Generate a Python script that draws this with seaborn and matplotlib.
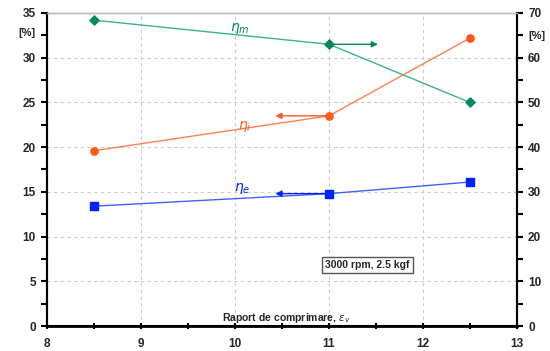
import matplotlib
matplotlib.use("Agg")
import matplotlib.pyplot as plt
from matplotlib.ticker import MultipleLocator
import pandas as pd
import seaborn as sns

# rapport de comprimare
eps_v = [8.5, 11.0, 12.5]
# randamente [%]
eta_m = [68.4, 63.0, 50.0]   # axa din dreapta
eta_i = [19.6, 23.5, 32.2]   # axa din stanga
eta_e = [13.4, 14.8, 16.1]   # axa din stanga

sns.set_style("white")
plt.rcParams["font.family"] = ["Liberation Sans", "DejaVu Sans"]

fig = plt.figure(figsize=(5.5, 3.51), dpi=100)
ax = fig.add_axes([0.0855, 0.0712, 0.8545, 0.8918])
ax2 = ax.twinx()

green_l, green_m = "#3cb48a", "#008a5a"
red_l, red_m = "#ff8050", "#ff5a1e"
blue_l, blue_m = "#4060ff", "#0022ff"

df = pd.DataFrame({"eps": eps_v, "ei": eta_i, "ee": eta_e, "em": eta_m})

sns.lineplot(data=df, x="eps", y="ei", ax=ax, color=red_l, lw=1)
sns.lineplot(data=df, x="eps", y="ee", ax=ax, color=blue_l, lw=1)
sns.lineplot(data=df, x="eps", y="em", ax=ax2, color=green_l, lw=1)
ax.scatter(eps_v, eta_i, marker="o", s=28, color=red_m, zorder=5)
ax.scatter(eps_v, eta_e, marker="s", s=28, color=blue_m, zorder=5)
ax2.scatter(eps_v, eta_m, marker="D", s=22, color=green_m, zorder=5)

# sageti spre axe
ax.annotate("", xy=(10.4, eta_i[1]), xytext=(eps_v[1], eta_i[1]),
            arrowprops=dict(arrowstyle="-|>", color=red_m, lw=1, mutation_scale=9))
ax.annotate("", xy=(10.4, eta_e[1]), xytext=(eps_v[1], eta_e[1]),
            arrowprops=dict(arrowstyle="-|>", color=blue_m, lw=1, mutation_scale=9))
ax2.annotate("", xy=(11.55, eta_m[1]), xytext=(eps_v[1], eta_m[1]),
             arrowprops=dict(arrowstyle="-|>", color=green_m, lw=1, mutation_scale=9))

ax.text(10.05, 33.3, r"$\eta_m$", color=green_m, fontsize=10, ha="center", va="center")
ax.text(10.1, 22.3, r"$\eta_i$", color=red_m, fontsize=10, ha="center", va="center")
ax.text(10.08, 15.4, r"$\eta_e$", color=blue_m, fontsize=10, ha="center", va="center")

ax.text(11.41, 6.8, "3000 rpm, 2.5 kgf", fontsize=7.5, fontweight="bold", ha="center",
        va="center", bbox=dict(boxstyle="square,pad=0.3", fc="white", ec="#555555", lw=1))
ax.text(10.55, 0.9, r"Raport de comprimare, $\varepsilon_v$", fontsize=7.5,
        fontweight="bold", ha="center", va="center")

ax.set_xlim(8, 13)
ax.set_ylim(0, 35)
ax2.set_ylim(0, 70)
ax.xaxis.set_major_locator(MultipleLocator(1))
ax.xaxis.set_minor_locator(MultipleLocator(0.5))
ax.yaxis.set_major_locator(MultipleLocator(5))
ax.yaxis.set_minor_locator(MultipleLocator(2.5))
ax2.yaxis.set_major_locator(MultipleLocator(10))
ax2.yaxis.set_minor_locator(MultipleLocator(5))
ax.set_xlabel("")
ax.set_ylabel("")
ax2.set_ylabel("")

ax.grid(True, which="major", color="#cccccc", ls=(0, (3, 3)), lw=0.8)
ax.set_axisbelow(True)

for a in (ax, ax2):
    a.tick_params(which="both", direction="out", labelsize=8.5, width=1.5,
                  color="black")
    a.tick_params(which="major", length=4, pad=4)
    a.tick_params(which="minor", length=4)
    for t in a.get_xticklabels() + a.get_yticklabels():
        t.set_fontweight("bold")
    a.spines["top"].set_color("#bbbbbb")
    a.spines["top"].set_linewidth(1)
    for s in ("left", "bottom", "right"):
        a.spines[s].set_color("black")
        a.spines[s].set_linewidth(1.5)
ax.tick_params(axis="x", which="both", bottom=True, direction="inout", length=5, pad=6)
ax.tick_params(axis="y", which="both", left=True)
ax2.tick_params(axis="y", which="both", right=True)
ax.spines["bottom"].set_linewidth(2)

fig.text(18 / 550, 1 - 33 / 351, "[%]", fontsize=8, fontweight="bold", ha="left", va="center")
fig.text(528 / 550, 1 - 36 / 351, "[%]", fontsize=8, fontweight="bold", ha="left", va="center")

fig.savefig("out.png", dpi=100)
